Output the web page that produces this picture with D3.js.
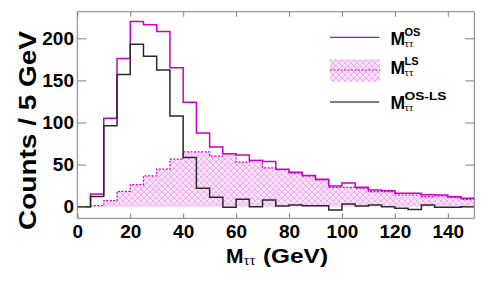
<!DOCTYPE html>
<html>
<head>
<meta charset="utf-8">
<script src="https://cdn.jsdelivr.net/npm/d3@7"></script>
<style>
  body { margin: 0; background: #fff; }
  svg { display: block; }
  text { font-family: "Liberation Sans", Arial, sans-serif; font-weight: bold; fill: #000; }
  .sub { font-family: "Liberation Serif", "DejaVu Serif", serif; font-weight: normal; }
</style>
</head>
<body>
<svg id="chart" width="485" height="281"></svg>
<script>
// bins are 5 GeV wide, lower edges 0..145
const binLow = d3.range(0, 150, 5);
const binWidth = 5;

// M_tautau OS (magenta outline)
const osCounts = [0, 15, 105, 176, 220, 216, 208, 165, 124, 87.5,
  71, 63, 61.5, 55, 53.6, 44.5, 41, 37, 32.5, 24.6,
  28.2, 23, 19.8, 19, 15.9, 15.9, 14.3, 13.9, 11.9, 9.9];
// M_tautau LS (hatched)
const lsCounts = [0, 1.2, 7.2, 18.3, 26.2, 36.5, 44.5, 56.4, 65, 65,
  60, 63, 53, 55, 46, 44, 39.7, 36.5, 31.7, 23,
  23, 21.8, 17.9, 17.9, 13.9, 13.9, 11.9, 12.7, 11, 8.7];
// M_tautau OS-LS (black outline)
const diffCounts = [0, 12, 96, 157, 193, 178.6, 162.4, 107.6, 58.3, 21.9,
  11.2, -0.7, 8.8, 0, 8, 0.8, 2, 1.2, 1.2, -4,
  3.2, 0.8, 2, 0, -2, -3.2, 2, -0.8, -0.8, 0];

const xTicks = [0, 20, 40, 60, 80, 100, 120, 140];
const yTicks = [0, 50, 100, 150, 200];

//frame of the pad
const padLeft = 77.3, padRight = 474.3, padTop = 11.7, padBottom = 218.3;

const svg = d3.select('#chart');

const x = d3.scaleLinear().domain([0, 150]).range([padLeft, padRight]);
const y = d3.scaleLinear().domain([-13.8, 231.6]).range([padBottom, padTop]);

//hatch pattern for the LS histogram
const defs = svg.append('defs');
const pat = defs.append('pattern')
  .attr('id', 'hatch')
  .attr('patternUnits', 'userSpaceOnUse')
  .attr('width', 6).attr('height', 6);
pat.append('rect').attr('width', 6).attr('height', 6).attr('fill', '#fbe4fb');
pat.append('path')
  .attr('d', 'M0,0 L6,6 M6,0 L0,6 M-1,5 L1,7 M5,-1 L7,1')
  .attr('stroke', '#e798e7')
  .attr('stroke-width', 0.7)
  .attr('fill', 'none');
pat.append('circle')
  .attr('cx', 3).attr('cy', 0.5).attr('r', 0.5)
  .attr('fill', '#ee9fee');

// step helpers: one point per bin plus the closing edge
const stepPoints = function (vals) {
  const pts = binLow.map((b, i) => [b, vals[i]]);
  pts.push([binLow[binLow.length - 1] + binWidth, vals[vals.length - 1]]);
  return pts;
};

const stepLine = d3.line()
  .x(d => x(d[0]))
  .y(d => y(d[1]))
  .curve(d3.curveStepAfter);

const stepArea = d3.area()
  .x(d => x(d[0]))
  .y0(y(0))
  .y1(d => y(d[1]))
  .curve(d3.curveStepAfter);

const plot = svg.append('g');

plot.append('path')
  .datum(stepPoints(lsCounts))
  .attr('d', stepArea)
  .attr('fill', 'url(#hatch)');

plot.append('path')
  .datum(stepPoints(lsCounts))
  .attr('d', stepLine)
  .attr('fill', 'none')
  .attr('stroke', '#cc00cc')
  .attr('stroke-width', 1.2)
  .attr('stroke-dasharray', '2,1.5');

plot.append('path')
  .datum(stepPoints(osCounts))
  .attr('d', stepLine)
  .attr('fill', 'none')
  .attr('stroke', '#c800c8')
  .attr('stroke-width', 1.5);

plot.append('path')
  .datum(stepPoints(diffCounts))
  .attr('d', stepLine)
  .attr('fill', 'none')
  .attr('stroke', '#2a2a2a')
  .attr('stroke-width', 1.5);

// axes, ticks point inward
const axisColor = '#808080';
const styleAxis = function (g) {
  g.select('.domain').remove();
  g.selectAll('.tick line').attr('stroke', axisColor);
  g.selectAll('.tick text')
    .style('font-size', '19px')
    .style('font-family', '"Liberation Sans", Arial, sans-serif')
    .style('font-weight', 'bold')
    .attr('fill', '#000');
};

svg.append('g')
  .attr('transform', 'translate(0,' + padBottom + ')')
  .call(d3.axisBottom(x).tickValues(xTicks).tickSize(-5).tickPadding(6.5))
  .call(styleAxis);

svg.append('g')
  .attr('transform', 'translate(0,' + padTop + ')')
  .call(d3.axisTop(x).tickValues(xTicks).tickSize(-5).tickFormat(''))
  .call(styleAxis);

svg.append('g')
  .attr('transform', 'translate(' + padLeft + ',0)')
  .call(d3.axisLeft(y).tickValues(yTicks).tickSize(-9).tickPadding(3.3))
  .call(styleAxis);

svg.append('g')
  .attr('transform', 'translate(' + padRight + ',0)')
  .call(d3.axisRight(y).tickValues(yTicks).tickSize(-9).tickFormat(''))
  .call(styleAxis);

svg.append('rect')
  .attr('x', padLeft).attr('y', padTop)
  .attr('width', padRight - padLeft).attr('height', padBottom - padTop)
  .attr('fill', 'none')
  .attr('stroke', axisColor)
  .attr('stroke-width', 1);

// axis titles
svg.append('text')
  .attr('x', 226).attr('y', 263.3)
  .style('font-size', '21px')
  .text('M');
svg.append('text')
  .attr('class', 'sub')
  .attr('x', 243.5).attr('y', 265)
  .style('font-size', '15px')
  .text('ττ');
svg.append('text')
  .attr('x', 263).attr('y', 263.3)
  .style('font-size', '21px')
  .attr('textLength', 65)
  .attr('lengthAdjust', 'spacingAndGlyphs')
  .text('(GeV)');

svg.append('text')
  .attr('transform', 'translate(36,230) rotate(-90)')
  .style('font-size', '24px')
  .attr('textLength', 199)
  .attr('lengthAdjust', 'spacingAndGlyphs')
  .text('Counts / 5 GeV');

// legend
const legend = svg.append('g');
const legendRows = [
  { sup: 'OS', ly: 37.3, base: 45 },
  { sup: 'LS', ly: 70, base: 74.3 },
  { sup: 'OS-LS', ly: 102, base: 109.3, supLen: 42 }
];

legend.append('line')
  .attr('x1', 330).attr('x2', 379.3)
  .attr('y1', legendRows[0].ly).attr('y2', legendRows[0].ly)
  .attr('stroke', '#c800c8').attr('stroke-width', 1.2);

legend.append('rect')
  .attr('x', 330).attr('y', 59.3)
  .attr('width', 50).attr('height', 22.4)
  .attr('fill', 'url(#hatch)');
legend.append('line')
  .attr('x1', 330).attr('x2', 380)
  .attr('y1', legendRows[1].ly).attr('y2', legendRows[1].ly)
  .attr('stroke', '#cc00cc').attr('stroke-width', 1.2)
  .attr('stroke-dasharray', '2,1.5');

legend.append('line')
  .attr('x1', 330).attr('x2', 379.3)
  .attr('y1', legendRows[2].ly).attr('y2', legendRows[2].ly)
  .attr('stroke', '#808080').attr('stroke-width', 2.2);

legendRows.forEach(function (r) {
  legend.append('text')
    .attr('x', 390.5).attr('y', r.base)
    .style('font-size', '17.5px')
    .text('M');
  const sup = legend.append('text')
    .attr('x', 404.5).attr('y', r.base - 9)
    .style('font-size', '11px')
    .text(r.sup);
  if (r.supLen) {
    sup.attr('textLength', r.supLen).attr('lengthAdjust', 'spacingAndGlyphs');
  }
  legend.append('text')
    .attr('class', 'sub')
    .attr('x', 404.5).attr('y', r.base + 1.5)
    .style('font-size', '11px')
    .text('ττ');
});
</script>
</body>
</html>
